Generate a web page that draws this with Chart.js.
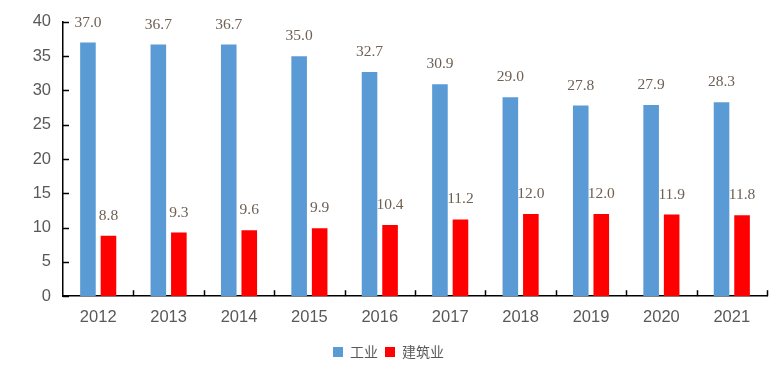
<!DOCTYPE html>
<html lang="zh">
<head>
    <meta charset="UTF-8">
    <title>工业与建筑业</title>
    <script src="https://cdn.jsdelivr.net/npm/chart.js"></script>
    <style>
      body {
          margin: 0;
          padding: 0;
          background: #ffffff;
      }
    </style>
</head>
<body>
    <canvas id="barChart" width="779" height="374"></canvas>
    <script>
    const years = ["2012", "2013", "2014", "2015", "2016", "2017", "2018", "2019", "2020", "2021"];
    const industry = [37.0, 36.7, 36.7, 35.0, 32.7, 30.9, 29.0, 27.8, 27.9, 28.3];
    const construction = [8.8, 9.3, 9.6, 9.9, 10.4, 11.2, 12.0, 12.0, 11.9, 11.8];
    const yTicks = [0, 5, 10, 15, 20, 25, 30, 35, 40];

    // inward tick marks on both axes + value labels above bars
    const extras = {
        id: "extras",
        afterDatasetsDraw(chart) {
            const ctx = chart.ctx;
            const area = chart.chartArea;
            const xs = chart.scales.x;
            const ys = chart.scales.y;
            ctx.save();
            ctx.strokeStyle = "#000000";
            ctx.lineWidth = 1.5;
            yTicks.forEach(v => {
                const py = Math.round(ys.getPixelForValue(v)) + 0.5;
                ctx.beginPath();
                ctx.moveTo(area.left, py);
                ctx.lineTo(area.left + 6, py);
                ctx.stroke();
            });
            const step = (xs.right - xs.left) / years.length;
            for (let i = 1; i <= years.length; i++) {
                const px = Math.round(xs.left + step * i) + 0.5;
                ctx.beginPath();
                ctx.moveTo(px, area.bottom);
                ctx.lineTo(px, area.bottom - 6);
                ctx.stroke();
            }
            ctx.font = "15.5px 'Liberation Serif', serif";
            ctx.fillStyle = "#6e6053";
            ctx.textAlign = "center";
            ctx.textBaseline = "middle";
            chart.data.datasets.forEach((ds, di) => {
                chart.getDatasetMeta(di).data.forEach((bar, i) => {
                    ctx.fillText(ds.data[i].toFixed(1), bar.x, bar.y - 20);
                });
            });
            ctx.restore();
        }
    };

    const ctx = document.getElementById("barChart").getContext("2d");
    new Chart(ctx, {
        type: "bar",
        data: {
            labels: years,
            datasets: [{
                label: "工业",
                data: industry,
                backgroundColor: "#5b9bd5",
                categoryPercentage: 0.583,
                barPercentage: 0.76
            }, {
                label: "建筑业",
                data: construction,
                backgroundColor: "#ff0000",
                categoryPercentage: 0.583,
                barPercentage: 0.76
            }]
        },
        options: {
            responsive: false,
            animation: false,
            layout: {
                padding: { top: 15, right: 12, left: 10, bottom: 5 }
            },
            scales: {
                x: {
                    grid: { display: false, drawTicks: false },
                    border: { color: "#000000", width: 1.5 },
                    ticks: {
                        color: "#595959",
                        maxRotation: 0,
                        autoSkip: false,
                        font: { family: "'Liberation Sans', Arial", size: 16.5 },
                        padding: 11
                    }
                },
                y: {
                    min: 0,
                    max: 40,
                    grid: { display: false, drawTicks: false },
                    border: { color: "#000000", width: 1.5 },
                    afterFit(scale) { scale.width = 53; },
                    ticks: {
                        stepSize: 5,
                        color: "#595959",
                        font: { family: "'Liberation Sans', Arial", size: 16.5 },
                        padding: 12
                    }
                }
            },
            plugins: {
                tooltip: { enabled: false },
                legend: {
                    position: "bottom",
                    labels: {
                        boxWidth: 10,
                        boxHeight: 10,
                        padding: 7,
                        color: "#595959",
                        font: { family: "'Noto Sans CJK SC', sans-serif", size: 14 }
                    }
                }
            }
        },
        plugins: [extras]
    });
    </script>
</body>
</html>
